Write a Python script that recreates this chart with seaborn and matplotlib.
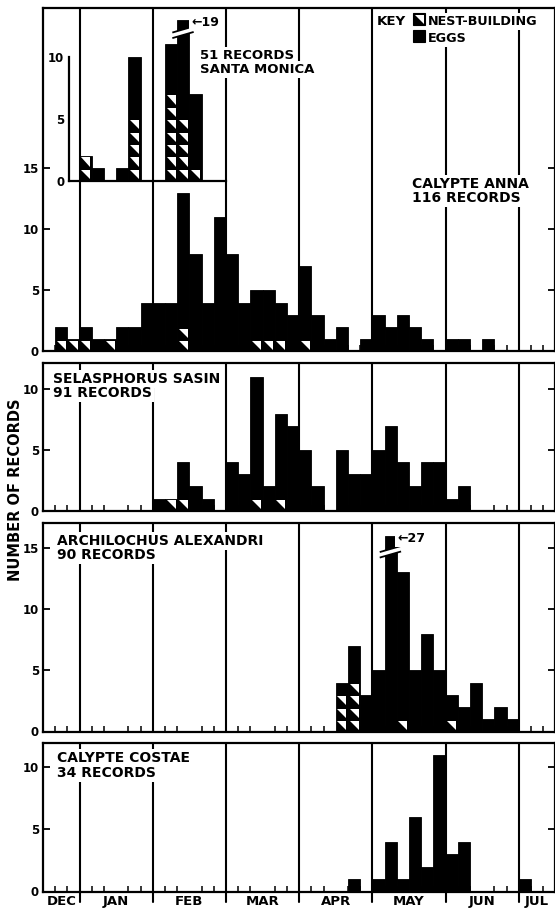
import numpy as np
import pandas as pd
import matplotlib
matplotlib.use("Agg")
import matplotlib.pyplot as plt
import matplotlib.transforms as mtransforms
from matplotlib.patches import Polygon, Rectangle
import seaborn as sns

# 5-day periods from 16 Dec to 15 Jul -> 42 bins
n_bins = 42
month_names = ['DEC', 'JAN', 'FEB', 'MAR', 'APR', 'MAY', 'JUN', 'JUL']
month_edges = [0, 3, 9, 15, 21, 27, 33, 39, 42]

# records per period (total) and how many of them were nest-building
anna_total = [0, 2, 1, 2, 1, 1, 2, 2, 4, 4, 4, 13, 8, 4, 11, 8, 4, 5, 5, 4, 3,
              7, 3, 1, 2, 0, 1, 3, 2, 3, 2, 1, 0, 1, 1, 0, 1, 0, 0, 0, 0, 0]
anna_nest = [0, 1, 1, 1, 0, 1, 0, 0, 0, 0, 0, 2, 0, 0, 0, 0, 0, 1, 1, 1, 0,
             1, 0, 0, 0, 0, 0, 0, 0, 0, 0, 0, 0, 0, 0, 0, 0, 0, 0, 0, 0, 0]

santa_total = [0, 0, 0, 2, 1, 0, 1, 10, 0, 0, 11, 19, 7, 0] + [0] * 28
santa_nest = [0, 0, 0, 2, 0, 0, 0, 5, 0, 0, 7, 5, 1, 0] + [0] * 28
santa_cap = 13

sasin_total = [0, 0, 0, 0, 0, 0, 0, 0, 0, 1, 1, 4, 2, 1, 0, 4, 3, 11, 2, 8, 7,
               5, 2, 0, 5, 3, 3, 5, 7, 4, 2, 4, 4, 1, 2, 0, 0, 0, 0, 0, 0, 0]
sasin_nest = [0, 0, 0, 0, 0, 0, 0, 0, 0, 0, 1, 1, 0, 0, 0, 0, 0, 1, 0, 1, 0,
              0, 0, 0, 0, 0, 0, 0, 0, 0, 0, 0, 0, 0, 0, 0, 0, 0, 0, 0, 0, 0]

alex_total = [0] * 24 + [4, 7, 3, 5, 27, 13, 5, 8, 5, 3, 2, 4, 1, 2, 1] + [0] * 3
alex_nest = [0] * 24 + [3, 4, 0, 0, 0, 1, 0, 0, 0, 1, 0, 0, 0, 0, 0] + [0] * 3
alex_cap = 16

costae_total = [0] * 25 + [1, 0, 1, 4, 1, 6, 2, 11, 3, 4, 0, 0, 0, 0, 1, 0, 0]
costae_nest = [0] * 42

sns.set_theme(style='white')
plt.rcParams['font.family'] = ['DejaVu Sans']
plt.rcParams['font.weight'] = 'bold'

W, H = 555, 908
X0, BIN_PX = 43, 12.2
fig = plt.figure(figsize=(W / 100, H / 100), dpi=100)
to_px = mtransforms.Affine2D().scale(1 / W, -1 / H).translate(0, 1) + fig.transFigure

edges = list(range(n_bins + 1))
centers = [e + 0.5 for e in edges[:-1]]
month_mid = [(a + b) / 2 for a, b in zip(month_edges[:-1], month_edges[1:])]


def rect(left, top, right, bottom):
    return [left / W, 1 - bottom / H, (right - left) / W, (bottom - top) / H]


def nest_triangle(x, y, w, h, m, **kw):
    # white upper-right half of a black cell
    return Polygon([(x + m * w, y + h - m * h), (x + w - m * w, y + h - m * h),
                    (x + w - m * w, y + m * h)], closed=True, fc='white', ec='none', **kw)


def draw_bars(ax, total, nest, cap=None):
    shown = np.array(total, dtype=float)
    if cap is not None:
        shown = np.minimum(shown, cap)
    df = pd.DataFrame({'period': centers, 'records': shown})
    sns.histplot(data=df, x='period', weights='records', bins=edges, color='black',
                 alpha=1, edgecolor='black', linewidth=0.6, ax=ax, zorder=3)
    for b, k in enumerate(nest):
        for lvl in range(k):
            ax.add_patch(nest_triangle(b, lvl, 1, 1, 0.13, zorder=4))
    ax.set_ylabel('')
    ax.set_xlabel('')


def break_mark(ax, b, y0):
    xs = [b - 0.4, b + 1.35]
    lo = [y0, y0 + 0.5]
    hi = [y0 + 0.45, y0 + 0.95]
    ax.add_patch(Polygon([(xs[0], lo[0]), (xs[1], lo[1]), (xs[1], hi[1]), (xs[0], hi[0])],
                         fc='white', ec='none', zorder=5))
    ax.plot(xs, lo, color='black', lw=1.3, zorder=6, solid_capstyle='butt')
    ax.plot(xs, hi, color='black', lw=1.3, zorder=6, solid_capstyle='butt')


panels = [
    (anna_total, anna_nest, None, (8, 351.5), 28.1, [0, 5, 10, 15]),
    (sasin_total, sasin_nest, None, (363.3, 510.7), 12.15, [0, 5, 10]),
    (alex_total, alex_nest, alex_cap, (523.3, 731.5), 17.0, [0, 5, 10, 15]),
    (costae_total, costae_nest, None, (743.3, 891.5), 11.95, [0, 5, 10]),
]

axes = []
for i, (total, nest, cap, (top, bot), ytop, yt) in enumerate(panels):
    ax = fig.add_axes(rect(X0, top, X0 + BIN_PX * n_bins, bot))
    ax.set_axisbelow(True)
    draw_bars(ax, total, nest, cap)
    last = i == len(panels) - 1
    for e in month_edges[1:-1]:
        ax.axvline(e, color='black', lw=1.5, zorder=2,
                   ymin=-0.07 if last else 0, clip_on=not last)
    ax.set_xlim(0, n_bins)
    ax.set_ylim(0, ytop)
    ax.set_yticks(yt)
    ax.set_yticklabels([str(v) for v in yt])
    ax.set_xticks(edges, minor=True)
    ax.set_xticks(month_mid)
    ax.set_xticklabels(month_names if last else [])
    ax.tick_params(axis='x', which='minor', direction='in', length=4, width=1.1,
                   bottom=True, top=False, color='black')
    ax.tick_params(axis='x', which='major', length=0, pad=2.5, labelsize=9.5,
                   labelbottom=last, labelcolor='black')
    ax.tick_params(axis='y', direction='in', length=5, width=1.3, left=True,
                   right=True, pad=3, labelsize=8.5, color='black', labelcolor='black')
    for s in ax.spines.values():
        s.set_color('black')
        s.set_linewidth(1.6)
    axes.append(ax)

break_mark(axes[2], alex_total.index(max(alex_total)), 14.2)

# Santa Monica inset inside the Calypte anna panel
in_bot, in_unit = 180.5, 12.38
inset = fig.add_axes(rect(68.5, in_bot - 14 * in_unit, 226, in_bot))
inset.patch.set_visible(False)
draw_bars(inset, santa_total, santa_nest, santa_cap)
inset.set_xlim((68.5 - X0) / BIN_PX, (226 - X0) / BIN_PX)
inset.set_ylim(0, 14)
inset.set_xticks([])
inset.set_yticks([0, 5, 10])
inset.set_yticklabels(['0', '5', '10'])
inset.tick_params(axis='y', direction='in', length=4, width=1.3, pad=3,
                  labelsize=8.5, color='black', labelcolor='black')
inset.spines['top'].set_visible(False)
inset.spines['right'].set_visible(False)
inset.spines['left'].set_bounds(0, 10)
for s in ('left', 'bottom'):
    inset.spines[s].set_color('black')
    inset.spines[s].set_linewidth(1.6)
break_mark(inset, santa_total.index(max(santa_total)), 11.5)

# labels, placed at their baselines in picture pixels
box = dict(facecolor='white', edgecolor='none', pad=1.5)
labels = [
    ('CALYPTE ANNA', 412, 188, 10), ('116 RECORDS', 412, 202, 10),
    ('KEY', 377, 25, 9.6), ('NEST-BUILDING', 428, 25, 9.2), ('EGGS', 428, 41.5, 9.2),
    ('51 RECORDS', 200, 59.3, 9.5), ('SANTA MONICA', 200, 73, 9.5),
    ('\u2190' + str(max(santa_total)), 191, 26, 9),
    ('SELASPHORUS SASIN', 53.3, 383.3, 10), ('91 RECORDS', 53.3, 396.7, 10),
    ('ARCHILOCHUS ALEXANDRI', 57, 545, 10), ('90 RECORDS', 57, 559, 10),
    ('\u2190' + str(max(alex_total)), 397, 541.7, 9),
    ('CALYPTE COSTAE', 57, 761.7, 10), ('34 RECORDS', 57, 776.7, 10),
]
for txt, x, y, fs in labels:
    fig.text(x, y, txt, transform=to_px, ha='left', va='baseline', fontsize=fs,
             fontweight='bold', color='black', bbox=box, zorder=5)

# key symbols (pixel coordinates, y downward)
fig.add_artist(Rectangle((413, 13), 12, 12, transform=to_px, fc='black', ec='black', lw=0.8, zorder=6))
fig.add_artist(Polygon([(414.5, 14.5), (423.5, 14.5), (423.5, 23.5)], closed=True, transform=to_px,
                       fc='white', ec='none', zorder=7))
fig.add_artist(Rectangle((413, 29.5), 12, 12, transform=to_px, fc='black', ec='black', lw=0.8, zorder=6))

fig.text(16 / W, 1 - 490 / H, 'NUMBER OF RECORDS', rotation=90, ha='center', va='center',
         fontsize=10.5, fontweight='bold', color='black')

fig.savefig('out.png', dpi=100, facecolor='white')
